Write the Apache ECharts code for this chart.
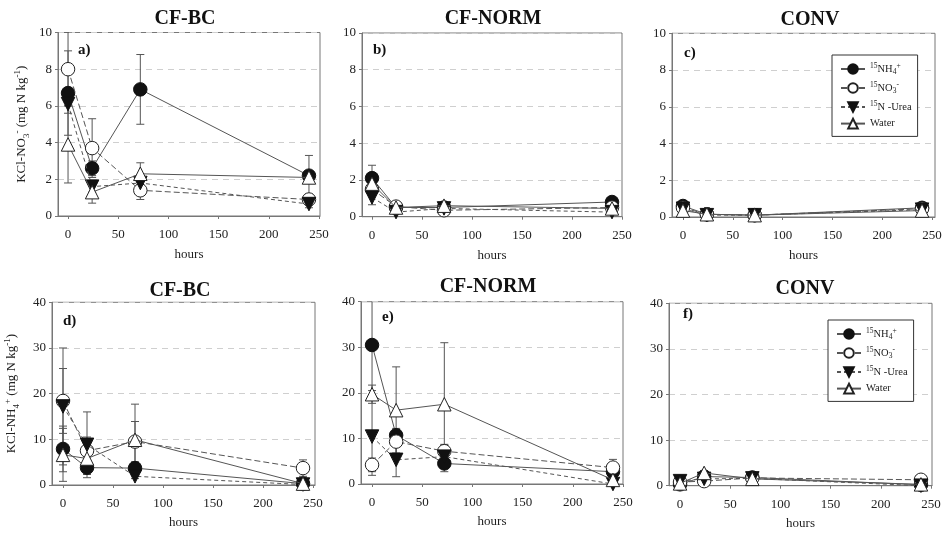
<!DOCTYPE html>
<html>
<head>
<meta charset="utf-8">
<script src="https://cdn.jsdelivr.net/npm/echarts@6/dist/echarts.min.js"></script>
<style>html,body{margin:0;padding:0;background:#fff}#c{width:946px;height:534px}</style>
</head>
<body>
<div id="c"></div>
<script>
// ---------- DATA ----------
const hours = [0, 24, 72, 240];
const xTickValues = [0, 50, 100, 150, 200, 250];
const seriesKeys = ['NH4', 'NO3', 'Urea', 'Water'];
const panelTitles = ['CF-BC', 'CF-NORM', 'CONV', 'CF-BC', 'CF-NORM', 'CONV'];
const panelLetters = ['a)', 'b)', 'c)', 'd)', 'e)', 'f)'];

// a) CF-BC, KCl-NO3-
const aNH4 = [6.7, 2.6, 6.9, 2.2];   const aNH4Err = [2.3, 0.4, 1.9, 1.1];
const aNO3 = [8.0, 3.7, 1.4, 0.9];   const aNO3Err = [2.0, 1.6, 0.5, 0.3];
const aUrea = [6.1, 1.6, 1.8, 0.65]; const aUreaErr = [0.5, 0.3, 0.3, 0.2];
const aWater = [3.9, 1.3, 2.3, 2.1]; const aWaterErr = [2.1, 0.6, 0.6, 0.3];
// b) CF-NORM, KCl-NO3-
const bNH4 = [2.1, 0.5, 0.5, 0.8];    const bNH4Err = [0.7, 0.1, 0.1, 0.1];
const bNO3 = [1.5, 0.55, 0.35, 0.5];  const bNO3Err = [0.3, 0.1, 0.1, 0.1];
const bUrea = [1.05, 0.25, 0.45, 0.25]; const bUreaErr = [0.4, 0.1, 0.1, 0.1];
const bWater = [1.8, 0.5, 0.6, 0.45]; const bWaterErr = [0.3, 0.1, 0.1, 0.1];
// c) CONV, KCl-NO3-
const cNH4 = [0.6, 0.15, 0.1, 0.5];   const cNH4Err = [0.1, 0.05, 0.05, 0.1];
const cNO3 = [0.5, 0.15, 0.1, 0.45];  const cNO3Err = [0.1, 0.05, 0.05, 0.1];
const cUrea = [0.45, 0.1, 0.1, 0.4];  const cUreaErr = [0.1, 0.05, 0.05, 0.1];
const cWater = [0.35, 0.15, 0.1, 0.35]; const cWaterErr = [0.1, 0.05, 0.05, 0.1];
// d) CF-BC, KCl-NH4+
const dNH4 = [7.9, 3.8, 3.7, 0.3];    const dNH4Err = [5.0, 1.5, 0.8, 0.3];
const dNO3 = [18.4, 7.5, 9.5, 3.7];   const dNO3Err = [7.1, 3.0, 4.4, 1.8];
const dUrea = [17.2, 8.8, 1.9, 0.1];  const dUreaErr = [12.8, 7.2, 0.5, 0.1];
const dWater = [6.6, 5.8, 9.9, 0.3];  const dWaterErr = [5.8, 3.5, 7.8, 0.3];
// e) CF-NORM, KCl-NH4+
const eNH4 = [30.5, 10.7, 4.5, 2.7];  const eNH4Err = [10.0, 1.5, 1.8, 0.5];
const eNO3 = [4.2, 9.3, 7.2, 3.6];    const eNO3Err = [1.5, 2.5, 1.5, 1.8];
const eUrea = [10.4, 5.3, 6.0, 0.0];  const eUreaErr = [8.5, 3.7, 2.5, 0.3];
const eWater = [19.7, 16.2, 17.5, 0.9]; const eWaterErr = [2.0, 9.5, 13.5, 0.5];
// f) CONV, KCl-NH4+
const fNH4 = [0.3, 2.0, 1.8, 0.2];    const fNH4Err = [0.4, 0.4, 0.4, 0.2];
const fNO3 = [0.8, 1.0, 1.7, 1.3];    const fNO3Err = [0.4, 0.4, 0.4, 0.3];
const fUrea = [1.0, 1.5, 1.6, 0.0];   const fUreaErr = [0.4, 0.4, 0.4, 0.2];
const fWater = [0.5, 2.8, 1.5, 0.3];  const fWaterErr = [0.4, 0.5, 0.4, 0.2];

const panelValues = [
  [[aNH4, aNH4Err], [aNO3, aNO3Err], [aUrea, aUreaErr], [aWater, aWaterErr]],
  [[bNH4, bNH4Err], [bNO3, bNO3Err], [bUrea, bUreaErr], [bWater, bWaterErr]],
  [[cNH4, cNH4Err], [cNO3, cNO3Err], [cUrea, cUreaErr], [cWater, cWaterErr]],
  [[dNH4, dNH4Err], [dNO3, dNO3Err], [dUrea, dUreaErr], [dWater, dWaterErr]],
  [[eNH4, eNH4Err], [eNO3, eNO3Err], [eUrea, eUreaErr], [eWater, eWaterErr]],
  [[fNH4, fNH4Err], [fNO3, fNO3Err], [fUrea, fUreaErr], [fWater, fWaterErr]]
];

// ---------- LAYOUT / STYLE ----------
const FONT = "'Liberation Serif','Times New Roman',serif";
const layouts = [
  {left: 58,  top: 32.5, width: 262, height: 183.5, xmin: -10, xmax: 251, ymax: 10, yint: 2, tx: 185, ty: 8.5, lx: 78,  ly: 43},
  {left: 362, top: 33,   width: 260, height: 183.7, xmin: -10, xmax: 250, ymax: 10, yint: 2, tx: 493, ty: 8.5, lx: 373, ly: 43},
  {left: 672, top: 33.3, width: 263, height: 183.7, xmin: -11, xmax: 253, ymax: 10, yint: 2, tx: 810, ty: 10,  lx: 684, ly: 46},
  {left: 52,  top: 302.3,width: 263, height: 182.7, xmin: -11, xmax: 252, ymax: 40, yint: 10, tx: 180, ty: 280.5, lx: 63, ly: 314},
  {left: 361, top: 301.7,width: 262, height: 182.3, xmin: -11, xmax: 250, ymax: 40, yint: 10, tx: 488, ty: 277, lx: 382, ly: 310},
  {left: 669, top: 303.3,width: 263, height: 182.4, xmin: -11, xmax: 251, ymax: 40, yint: 10, tx: 805, ty: 278.5, lx: 683, ly: 307}
];
const seriesStyles = {
  NH4:   {symbol: 'circle', color: '#111', border: '#111', line: 'solid'},
  NO3:   {symbol: 'circle', color: '#fff', border: '#222', line: [6, 3]},
  Urea:  {symbol: 'path://M0,0 L10,0 L5,9 Z', color: '#111', border: '#111', line: [4, 3]},
  Water: {symbol: 'triangle', color: '#fff', border: '#222', line: 'solid'}
};
const legendLabels = {
  NH4: '{sup|15}{n|NH}{sub|4}{sup|+}',
  NO3: '{sup|15}{n|NO}{sub|3}{sup|-}',
  Urea: '{sup|15}{n|N -Urea}',
  Water: '{n|Water}'
};
const richSmall = {
  n: {fontFamily: FONT, fontSize: 10.5, lineHeight: 14, color: '#222'},
  sup: {fontFamily: FONT, fontSize: 7.5, lineHeight: 7, verticalAlign: 'top', color: '#222'},
  sub: {fontFamily: FONT, fontSize: 7.5, lineHeight: 7, verticalAlign: 'bottom', color: '#222'}
};
const richAxis = {
  n: {fontFamily: FONT, fontSize: 13, lineHeight: 18, color: '#222'},
  sup: {fontFamily: FONT, fontSize: 9, lineHeight: 9, verticalAlign: 'top', color: '#222'},
  sub: {fontFamily: FONT, fontSize: 9, lineHeight: 9, verticalAlign: 'bottom', color: '#222'}
};
const yNames = [
  '{n|KCl-NO}{sub|3}{sup|-}{n| (mg N kg}{sup|-1}{n|)}',
  '{n|KCl-NH}{sub|4}{sup|+}{n| (mg N kg}{sup|-1}{n|)}'
];

function renderErr(params, api) {
  const x = api.value(0), lo = api.value(1), hi = api.value(2);
  const t = api.coord([x, hi]);
  const b = api.coord([x, lo]);
  const hw = 4;
  const st = {stroke: '#555', lineWidth: 1, fill: null};
  return {type: 'group', children: [
    {type: 'line', shape: {x1: t[0], y1: t[1], x2: b[0], y2: b[1]}, style: st},
    {type: 'line', shape: {x1: t[0] - hw, y1: t[1], x2: t[0] + hw, y2: t[1]}, style: st},
    {type: 'line', shape: {x1: b[0] - hw, y1: b[1], x2: b[0] + hw, y2: b[1]}, style: st}
  ]};
}

const grid = [], xAxis = [], yAxis = [], series = [], title = [];
layouts.forEach((L, i) => {
  const row = i < 3 ? 0 : 1;
  grid.push({left: L.left, top: L.top, width: L.width, height: L.height, show: true,
    borderColor: '#777', borderWidth: 1, backgroundColor: 'transparent'});
  xAxis.push({type: 'value', gridIndex: i, min: L.xmin, max: L.xmax, interval: 50,
    name: 'hours', nameLocation: 'middle', nameGap: row === 0 ? 32 : 31,
    nameTextStyle: {fontFamily: FONT, fontSize: 13, color: '#222'},
    axisLine: {show: true, onZero: false, lineStyle: {color: '#777'}},
    axisTick: {show: true, length: 3, customValues: xTickValues, lineStyle: {color: '#777'}},
    axisLabel: {customValues: xTickValues, fontFamily: FONT, fontSize: 13, color: '#222', margin: 12},
    splitLine: {show: false}});
  yAxis.push({type: 'value', gridIndex: i, min: 0, max: L.ymax, interval: L.yint,
    name: (i === 0 || i === 3) ? yNames[row] : '', nameLocation: 'middle', nameRotate: 90,
    nameGap: row === 0 ? 27 : 31,
    nameTextStyle: {rich: richAxis},
    axisLine: {show: true, onZero: false, lineStyle: {color: '#777'}},
    axisTick: {show: true, length: 3, lineStyle: {color: '#777'}},
    axisLabel: {fontFamily: FONT, fontSize: 13, color: '#222', margin: 6},
    splitLine: {show: true, lineStyle: {color: '#cfcfcf', type: [6, 5], width: 1}}});
  title.push({text: panelTitles[i], left: L.tx, top: L.ty, textAlign: 'center',
    textStyle: {fontFamily: FONT, fontSize: 20, fontWeight: 'bold', color: '#111'}, padding: 0});
  title.push({text: panelLetters[i], left: L.lx, top: L.ly,
    textStyle: {fontFamily: FONT, fontSize: 15, fontWeight: 'bold', color: '#111'}, padding: 0});

  panelValues[i].forEach((pair, k) => {
    const key = seriesKeys[k];
    const S = seriesStyles[key];
    const vals = pair[0], errs = pair[1];
    series.push({type: 'custom', name: key + '_err', xAxisIndex: i, yAxisIndex: i, clip: true, z: 1,
      renderItem: renderErr, silent: true,
      data: hours.map((h, j) => [h, vals[j] - errs[j], vals[j] + errs[j]])});
    series.push({type: 'line', name: key, xAxisIndex: i, yAxisIndex: i, z: 3 + k,
      symbol: S.symbol, symbolSize: 13.5, showAllSymbol: true,
      itemStyle: {color: S.color, borderColor: S.border, borderWidth: 1},
      lineStyle: {color: '#555', width: 1, type: S.line},
      emphasis: {disabled: true},
      data: hours.map((h, j) => [h, vals[j]])});
  });
});

const legendCommon = {
  data: seriesKeys, orient: 'vertical', borderColor: '#333', borderWidth: 1,
  padding: [7, 6, 7, 8], itemWidth: 24, itemHeight: 12, itemGap: 5,
  backgroundColor: '#fff', selectedMode: false,
  formatter: name => legendLabels[name],
  textStyle: {rich: richSmall}
};
const legend = [
  Object.assign({left: 832, top: 55, width: 85}, legendCommon),
  Object.assign({left: 828, top: 320, width: 85}, legendCommon)
];

const chart = echarts.init(document.getElementById('c'), null, {renderer: 'canvas'});
chart.setOption({
  animation: false, backgroundColor: '#fff',
  title, grid, xAxis, yAxis, series, legend
});
</script>
</body>
</html>
